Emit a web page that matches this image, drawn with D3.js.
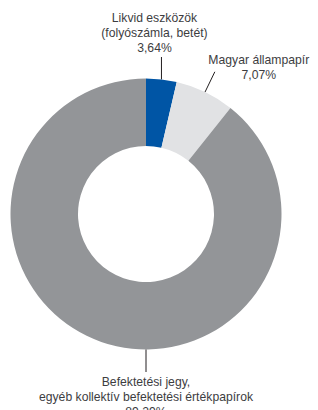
<!DOCTYPE html>
<html>
<head>
<meta charset="utf-8">
<script src="https://cdn.jsdelivr.net/npm/d3@7"></script>
<style>
  html, body { margin: 0; padding: 0; background: #fff; }
  svg { display: block; }
</style>
</head>
<body>
<svg id="chart" width="318" height="410"></svg>
<script>
// slices, clockwise from the top
const labels = [
  ["Likvid eszközök", "(folyószámla, betét)"],
  ["Magyar állampapír"],
  ["Befektetési jegy,", "egyéb kollektív befektetési értékpapírok"]
];
const values = [3.64, 7.07, 89.29];
const colors = ["#0055a5", "#e1e2e4", "#939598"];

const width = 318;
const height = 410;
const cx = 146;
const cy = 214;
const outerR = 135.5;
const innerR = 68;
const lineEnd = 158;
const lineH = 15;

// leader line: angle (null = slice middle), vertical or radial, text offset from its end
const labelAngle = [null, null, Math.PI];
const labelVertical = [true, false, false];
const labelOffset = [[-7, -5, "up"], [44, 7, "up"], [0, 14, "down"]];

const svg = d3.select("#chart");
const g = svg.append("g").attr("transform", `translate(${cx},${cy})`);

const pie = d3.pie().sort(null).value((d) => d.value);
const arc = d3.arc().innerRadius(innerR).outerRadius(outerR);

const data = values.map((v, i) => ({ value: v, label: labels[i], color: colors[i] }));
const arcs = pie(data);

g.selectAll("path")
  .data(arcs)
  .join("path")
  .attr("fill", (d) => d.data.color)
  .attr("d", arc);

const fmt = (v) => v.toFixed(2).replace(".", ",") + "%";
const pt = (a, r) => [Math.sin(a) * r, -Math.cos(a) * r];

arcs.forEach((d, i) => {
  const a = labelAngle[i] != null ? labelAngle[i] : (d.startAngle + d.endAngle) / 2;
  const p0 = pt(a, outerR);
  const p1 = labelVertical[i] ? [p0[0], -lineEnd + 1] : pt(a, lineEnd);
  g.append("line")
    .attr("x1", p0[0]).attr("y1", p0[1])
    .attr("x2", p1[0]).attr("y2", p1[1])
    .attr("stroke", "#231f20")
    .attr("stroke-width", 1);

  const lines = d.data.label.concat([fmt(d.data.value)]);
  const [dx, dy, dir] = labelOffset[i];
  const x = p1[0] + dx;
  const y0 = dir === "up" ? p1[1] + dy - (lines.length - 1) * lineH : p1[1] + dy;
  const t = g.append("text")
    .attr("text-anchor", "middle")
    .attr("font-family", "'Liberation Sans', Arial, Helvetica, sans-serif")
    .attr("font-size", 12.2)
    .attr("fill", "#3d3d3f");
  lines.forEach((s, k) => {
    t.append("tspan").attr("x", x).attr("y", y0 + k * lineH).text(s);
  });
});
</script>
</body>
</html>
